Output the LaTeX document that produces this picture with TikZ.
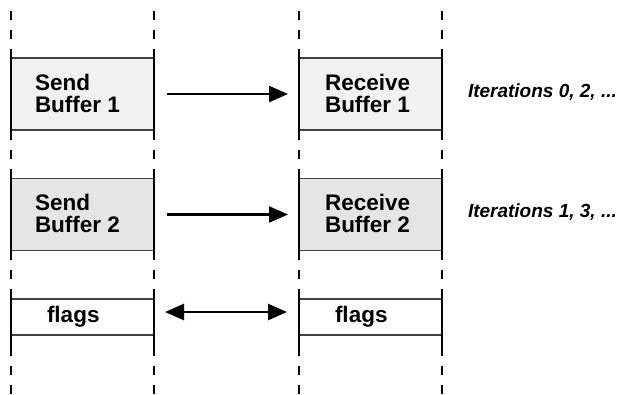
\documentclass[tikz,border=0pt]{standalone}
\usepackage{fontspec}
\setmainfont{Liberation Sans}
\usetikzlibrary{arrows.meta}
\definecolor{bufone}{gray}{0.945}
\definecolor{buftwo}{gray}{0.9}
\definecolor{edgegray}{gray}{0.25}
\tikzset{bighead/.tip={Triangle[length=19pt,width=16pt]}}
\begin{document}
\begin{tikzpicture}[x=1pt,y=-1pt,inner sep=0pt,outer sep=0pt,
buffer/.style={rectangle,minimum width=143pt,minimum height=72pt},
flagbox/.style={rectangle,minimum width=143pt,minimum height=36pt},
bufname/.style={align=left,anchor=north west,font=\fontsize{22.5}{22}\selectfont\bfseries},
flagname/.style={anchor=base west,font=\fontsize{22.5}{22}\selectfont\bfseries},
itertext/.style={anchor=base west,font=\fontsize{19}{19}\selectfont\bfseries\itshape},
edge/.style={draw=edgegray,line width=1.6pt},
rail/.style={line width=2.8pt},
flow/.style={line width=2.5pt}]
\useasboundingbox (0,0) rectangle (620,394);

\draw (82.5,94) node[buffer,fill=bufone] (send1) {};
\draw (370.5,94) node[buffer,fill=bufone] (recv1) {};
\draw (82.5,214.5) node[buffer,fill=buftwo] (send2) {};
\draw (370.5,214.5) node[buffer,fill=buftwo] (recv2) {};
\draw (82.5,317) node[flagbox] (flagsL) {};
\draw (370.5,317) node[flagbox] (flagsR) {};

\foreach \b in {send1,recv1,send2,recv2,flagsL,flagsR} {
  \draw[edge] (\b.north west) -- (\b.north east);
  \draw[edge] (\b.south west) -- (\b.south east);
}

% broken rails
\foreach \x in {11,154,299,442}
  \foreach \ya/\yb in {11/20,30/39,49/140,150/159,169/260,270/279,289/356,366/375,385/394}
    \draw[rail] (\x,\ya) -- (\x,\yb);

\draw (35,74) node[bufname] (send1txt) {Send\\Buffer 1};
\draw (325,74) node[bufname] (recv1txt) {Receive\\Buffer 1};
\draw (35,194) node[bufname] (send2txt) {Send\\Buffer 2};
\draw (325,194) node[bufname] (recv2txt) {Receive\\Buffer 2};
\draw (47,322) node[flagname] (flagsLtxt) {flags};
\draw (335,322) node[flagname] (flagsRtxt) {flags};

\draw[flow,-bighead,shorten <=13pt,shorten >=11pt] (send1.east) -- (recv1.west);
\draw[flow,-bighead,shorten <=13pt,shorten >=11pt] (send2.east) -- (recv2.west);
\draw[flow,bighead-bighead,shorten <=11pt,shorten >=12pt] ([yshift=5pt]flagsL.east) -- ([yshift=5pt]flagsR.west);

\draw (468,97) node[itertext] (iter1) {Iterations 0, 2, ...};
\draw (468,217) node[itertext] (iter2) {Iterations 1, 3, ...};

\end{tikzpicture}
\end{document}
